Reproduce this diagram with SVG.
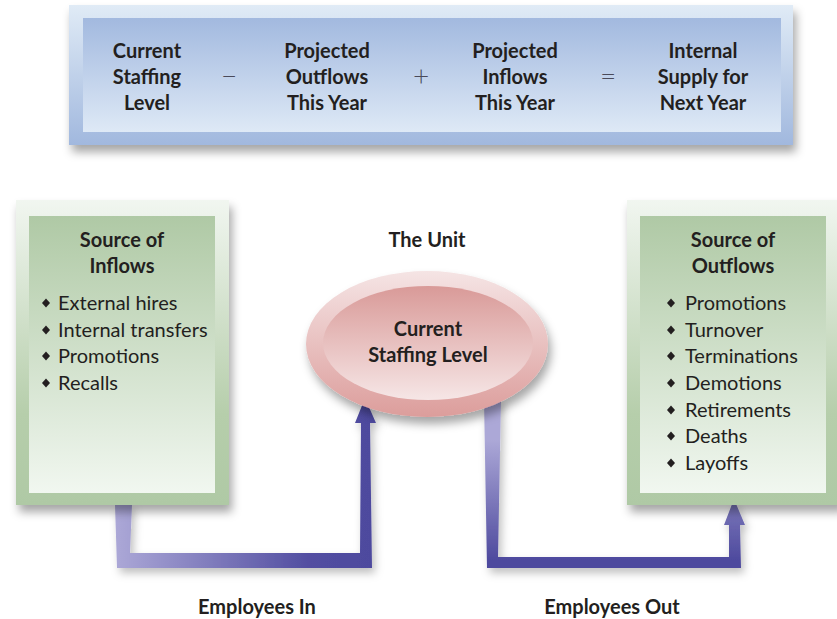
<svg xmlns="http://www.w3.org/2000/svg" width="837" height="619" viewBox="0 0 837 619">
<defs>
<linearGradient id="blueOuter" x1="0" y1="0" x2="0" y2="1"><stop offset="0" stop-color="#e0ebf6"/><stop offset="1" stop-color="#a1b8de"/></linearGradient>
<linearGradient id="blueInner" x1="0" y1="0" x2="0" y2="1"><stop offset="0" stop-color="#a2b9df"/><stop offset="1" stop-color="#dee9f6"/></linearGradient>
<linearGradient id="greenOuter" x1="0" y1="0" x2="0" y2="1"><stop offset="0" stop-color="#f1f6f0"/><stop offset="0.7" stop-color="#b6ceab"/><stop offset="1" stop-color="#afc9a5"/></linearGradient>
<linearGradient id="greenInner" x1="0" y1="0" x2="0" y2="1"><stop offset="0" stop-color="#afc9a5"/><stop offset="1" stop-color="#f1f7f0"/></linearGradient>
<linearGradient id="pinkOuter" x1="0" y1="0" x2="0" y2="1"><stop offset="0" stop-color="#f5e4e4"/><stop offset="1" stop-color="#dc9d9b"/></linearGradient>
<linearGradient id="pinkInner" x1="0" y1="0" x2="0" y2="1"><stop offset="0" stop-color="#d99a98"/><stop offset="1" stop-color="#f6e6e6"/></linearGradient>
<linearGradient id="arrowIn" gradientUnits="userSpaceOnUse" x1="115" y1="0" x2="372" y2="0"><stop offset="0" stop-color="#aca8d7"/><stop offset="0.75" stop-color="#524ea1"/><stop offset="1" stop-color="#4e4a9e"/></linearGradient>
<linearGradient id="arrowOut" gradientUnits="userSpaceOnUse" x1="0" y1="440" x2="0" y2="560"><stop offset="0" stop-color="#aca8d7"/><stop offset="1" stop-color="#4e4a9e"/></linearGradient>
<filter id="shadow" x="-20%" y="-20%" width="140%" height="150%"><feDropShadow dx="3" dy="7" stdDeviation="5" flood-color="#000" flood-opacity="0.35"/></filter>
<filter id="shadowSm" x="-20%" y="-20%" width="140%" height="150%"><feDropShadow dx="3" dy="5" stdDeviation="4" flood-color="#000" flood-opacity="0.25"/></filter>
<path id="dia" d="M0,-4.5 L4,0 L0,4.5 L-4,0 Z" fill="#231f20"/>
<style>
text{font-family:Lato,"Liberation Sans",sans-serif;fill:#231f20;}
.b{font-weight:bold;font-size:20px;text-anchor:middle;}
.r{font-size:20px;}
.op{font-size:28px;text-anchor:middle;fill:#4a4a5a;font-weight:300;}
</style>
</defs>

<g id="connectors">
<polygon filter="url(#shadowSm)" fill="url(#arrowIn)" points="115,505 132,505 130,553 360,553 361,423 355,423 365,398 376,423 370,423 372,568 117,568"/>
<polygon filter="url(#shadowSm)" fill="url(#arrowOut)" points="484,400 501,400 498,557 729,557 729,525 724,525 734,499 745,525 740,525 741,568 487,568"/>
</g>

<g id="equation">
<rect x="69" y="5" width="724" height="140" fill="url(#blueOuter)" filter="url(#shadow)"/>
<rect x="83" y="18" width="698" height="114" fill="url(#blueInner)"/>
<text class="b" x="147" y="58">Current</text>
<text class="b" x="147" y="84">Staffing</text>
<text class="b" x="147" y="110">Level</text>
<text class="op" x="229" y="86">−</text>
<text class="b" x="327" y="58">Projected</text>
<text class="b" x="327" y="84">Outflows</text>
<text class="b" x="327" y="110">This Year</text>
<text class="op" x="421" y="86">+</text>
<text class="b" x="515" y="58">Projected</text>
<text class="b" x="515" y="84">Inflows</text>
<text class="b" x="515" y="110">This Year</text>
<text class="op" x="608" y="86">=</text>
<text class="b" x="703" y="58">Internal</text>
<text class="b" x="703" y="84">Supply for</text>
<text class="b" x="703" y="110">Next Year</text>
</g>

<g id="inflows">
<rect x="16" y="200" width="213" height="305" fill="url(#greenOuter)" filter="url(#shadow)"/>
<rect x="29" y="216" width="186" height="277" fill="url(#greenInner)"/>
<text class="b" x="122" y="247">Source of</text>
<text class="b" x="122" y="273">Inflows</text>
<use href="#dia" x="46" y="303"/><text class="r" x="58" y="310">External hires</text>
<use href="#dia" x="46" y="330"/><text class="r" x="58" y="337">Internal transfers</text>
<use href="#dia" x="46" y="356"/><text class="r" x="58" y="363">Promotions</text>
<use href="#dia" x="46" y="383"/><text class="r" x="58" y="390">Recalls</text>
</g>

<g id="outflows">
<rect x="627" y="200" width="215" height="305" fill="url(#greenOuter)" filter="url(#shadow)"/>
<rect x="640" y="216" width="186" height="277" fill="url(#greenInner)"/>
<text class="b" x="733" y="247">Source of</text>
<text class="b" x="733" y="273">Outflows</text>
<use href="#dia" x="671" y="303"/><text class="r" x="685" y="310">Promotions</text>
<use href="#dia" x="671" y="330"/><text class="r" x="685" y="337">Turnover</text>
<use href="#dia" x="671" y="356"/><text class="r" x="685" y="363">Terminations</text>
<use href="#dia" x="671" y="383"/><text class="r" x="685" y="390">Demotions</text>
<use href="#dia" x="671" y="410"/><text class="r" x="685" y="417">Retirements</text>
<use href="#dia" x="671" y="436"/><text class="r" x="685" y="443">Deaths</text>
<use href="#dia" x="671" y="463"/><text class="r" x="685" y="470">Layoffs</text>
</g>

<g id="unit">
<text class="b" x="427" y="247">The Unit</text>
<ellipse cx="427" cy="344" rx="121" ry="73" fill="url(#pinkOuter)" filter="url(#shadow)"/>
<ellipse cx="428" cy="343" rx="105" ry="57" fill="url(#pinkInner)"/>
<text class="b" x="428" y="336">Current</text>
<text class="b" x="428" y="362">Staffing Level</text>
</g>

<g id="labels">
<text class="b" x="257" y="614">Employees In</text>
<text class="b" x="612" y="614">Employees Out</text>
</g>
</svg>
